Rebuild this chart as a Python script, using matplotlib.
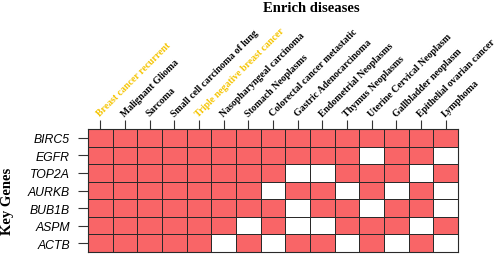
import numpy as np
import matplotlib
matplotlib.use('Agg')
import matplotlib.pyplot as plt
from matplotlib.colors import ListedColormap

# diseases (top axis) and genes (rows)
diseases = ['Breast cancer recurrent', 'Malignant Glioma', 'Sarcoma',
            'Small cell carcinoma of lung', 'Triple negative breast cancer',
            'Nasopharyngeal carcinoma', 'Stomach Neoplasms',
            'Colorectal cancer metastatic', 'Gastric Adenocarcinoma',
            'Endometrial Neoplasms', 'Thymus Neoplasms',
            'Uterine Cervical Neoplasm', 'Gallbladder neoplasm',
            'Epithelial ovarian cancer', 'Lymphoma']
genes = ['BIRC5', 'EGFR', 'TOP2A', 'AURKB', 'BUB1B', 'ASPM', 'ACTB']
highlight = ['Breast cancer recurrent', 'Triple negative breast cancer']

# 1 = enriched (red), 0 = not (white)
BIRC5 = [1, 1, 1, 1, 1, 1, 1, 1, 1, 1, 1, 1, 1, 1, 1]
EGFR  = [1, 1, 1, 1, 1, 1, 1, 1, 1, 1, 1, 0, 1, 1, 0]
TOP2A = [1, 1, 1, 1, 1, 1, 1, 1, 0, 0, 1, 1, 1, 0, 1]
AURKB = [1, 1, 1, 1, 1, 1, 1, 0, 1, 1, 0, 1, 0, 1, 0]
BUB1B = [1, 1, 1, 1, 1, 1, 1, 1, 0, 1, 1, 0, 1, 1, 0]
ASPM  = [1, 1, 1, 1, 1, 1, 0, 1, 0, 0, 1, 1, 1, 0, 1]
ACTB  = [1, 1, 1, 1, 1, 0, 1, 0, 1, 1, 0, 1, 0, 1, 0]

matrix = np.array([BIRC5, EGFR, TOP2A, AURKB, BUB1B, ASPM, ACTB])

fig = plt.figure(figsize=(4.98, 2.55), dpi=100)
ax = fig.add_axes([88 / 498, 2 / 255, 370 / 498, 123 / 255])

cmap = ListedColormap(['white', '#F96567'])
ax.pcolormesh(matrix, cmap=cmap, vmin=0, vmax=1, edgecolors='#2a2a2a', linewidth=0.7)
ax.set_xlim(0, len(diseases))
ax.set_ylim(len(genes), 0)
for s in ax.spines.values():
    s.set_color('#2a2a2a')
    s.set_linewidth(0.8)

ax.xaxis.tick_top()
ax.set_xticks(np.arange(len(diseases)) + 0.5)
ax.set_xticklabels(diseases, rotation=45, ha='left', va='baseline', rotation_mode='anchor',
                   fontfamily='Liberation Serif', fontweight='bold', fontsize=7.0)
for lab in ax.get_xticklabels():
    if lab.get_text() in highlight:
        lab.set_color('#F5C400')
ax.tick_params(axis='x', length=6.5, width=0.8, color='#333333', pad=2.5)

ax.set_yticks(np.arange(len(genes)) + 0.5)
ax.set_yticklabels(genes, fontfamily='Liberation Sans', fontstyle='italic', fontsize=8.8)
ax.tick_params(axis='y', length=7, width=0.8, color='#333333', pad=6)

fig.text(311 / 498, 1 - 8 / 255, 'Enrich diseases', ha='center', va='center',
         fontfamily='Liberation Serif', fontweight='bold', fontsize=10.5)
fig.text(7 / 498, 1 - 201 / 255, 'Key Genes', ha='center', va='center', rotation=90,
         fontfamily='Liberation Serif', fontweight='bold', fontsize=10.5)

fig.savefig('out.png', dpi=100)
